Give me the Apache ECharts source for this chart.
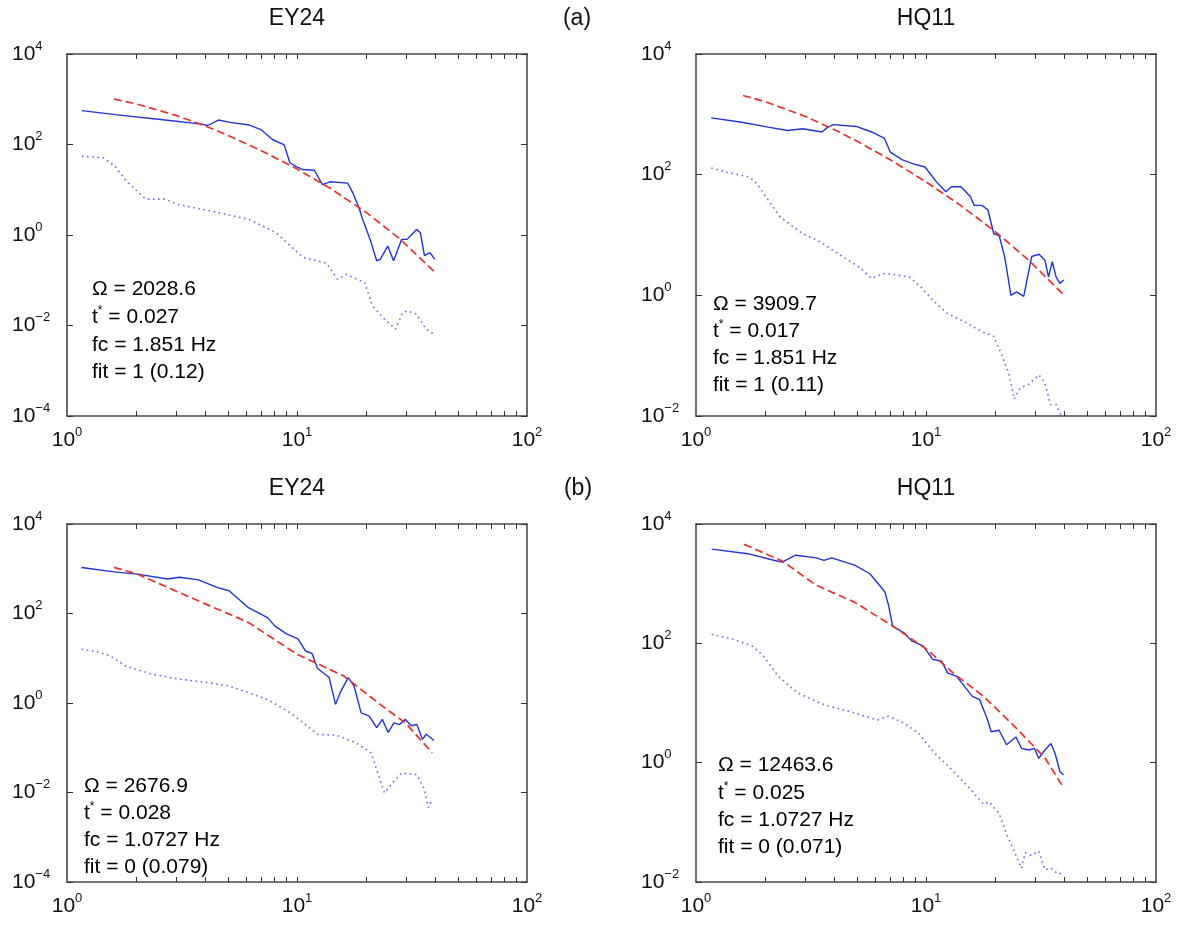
<!DOCTYPE html>
<html><head><meta charset="utf-8">
<script src="https://cdn.jsdelivr.net/npm/echarts@6/dist/echarts.min.js"></script>
<style>html,body{margin:0;padding:0;background:#fff}#c{width:1186px;height:930px}</style>
</head><body><div id="c"></div>
<script>
// ---------- data ----------
const panelTitles = ['EY24', 'HQ11', 'EY24', 'HQ11'];
const groupLabels = ['(a)', '(b)'];
const xLabelTicks = [1, 10, 100];
const xMinorTicks = [2, 3, 4, 5, 6, 7, 8, 9, 10, 20, 30, 40, 50, 60, 70, 80, 90];
const yTicksWide = [1e-4, 1e-2, 1, 1e2, 1e4];
const yTicksNarrow = [1e-2, 1, 1e2, 1e4];

const omegaVals = ['2028.6', '3909.7', '2676.9', '12463.6'];
const tstarVals = ['0.027', '0.017', '0.028', '0.025'];
const fcVals = ['1.851', '1.851', '1.0727', '1.0727'];
const fitVals = ['1 (0.12)', '1 (0.11)', '0 (0.079)', '0 (0.071)'];

// Panel (a) EY24
const a1BlueF = [1.16,1.62,2.67,3.77,4.1,4.55,5.12,6.2,6.97,7.82,8.8,9.3,9.87,10.6,11.9,12.9,13.9,16.6,17.5,18.6,19.3,20.8,22.2,23.0,24.8,26.3,28.5,30.1,33.1,34.4,35.8,37.9,39.7];
const a1BlueV = [562,457,347,286,263,347,309,269,214,129,98,40,33,28,27,13,15,14,8.5,4.0,2.2,0.8,0.27,0.29,0.57,0.27,0.8,0.8,1.33,1.12,0.35,0.41,0.29];
const a1RedF = [1.6,2,3,4,5,7,10,14,20,28,39.5];
const a1RedV = [1010,790,434,255,160,73,28.8,10.6,3.16,0.82,0.156];
const a1DotF = [1.16,1.44,1.62,1.81,2.2,2.67,3.0,4.23,6.2,8.1,10.6,13.4,15.0,16.3,19.7,21.3,24,26.8,28.9,30.1,33.1,36.4,39.3];
const a1DotV = [55,51,33,15.5,6.2,6.2,4.8,3.4,2.2,1.13,0.32,0.24,0.105,0.135,0.089,0.027,0.0138,0.0083,0.0195,0.021,0.0178,0.0083,0.0065];

// Panel (a) HQ11
const a2BlueF = [1.165,1.58,2.06,2.50,2.91,3.53,3.74,3.96,4.97,5.8,6.6,7.0,7.86,8.8,9.9,11.1,12.2,12.9,14.2,15.6,16.2,17.5,18.6,19.7,20.8,22.0,23.4,24.8,26.6,28.8,31.0,32.9,34.1,35.4,36.8,38.2,39.8];
const a2BlueV = [875,740,614,540,578,510,614,676,630,510,398,236,178,151,134,76,52,63,63,43,31,31,26,10.5,9.8,4.3,1.0,1.14,0.96,4.4,4.8,3.8,2.0,3.6,2.0,1.58,1.8];
const a2RedF = [1.6,2,3,4,5,7,10,14,20,28,40];
const a2RedV = [2055,1621,918,557,361,176,75.9,31.8,11.4,3.81,0.99];
const a2DotF = [1.165,1.36,1.71,1.84,2.06,2.32,2.91,3.39,4.6,5.15,5.8,6.5,7.3,8.5,9.5,10.7,12.4,15.0,17.5,19.7,21.2,22.9,24.2,25.6,27.8,31.0,32.9,34.8,36.8,39];
const a2DotV = [129,110,91,71,38,20,10.5,8.1,3.8,2.9,1.9,2.3,2.2,2.0,1.38,0.83,0.50,0.35,0.25,0.21,0.11,0.051,0.019,0.029,0.033,0.048,0.035,0.0155,0.0155,0.0095];

// Panel (b) EY24
const b1BlueF = [1.157,1.60,2.02,2.74,3.08,3.73,4.52,5.07,6.15,7.44,8.0,9.0,10.1,10.9,11.6,12.3,13.8,14.7,15.4,16.7,17.7,19.0,20.6,22.2,23.5,24.9,26.4,27.9,29.6,31.4,33.2,35.1,36.5,39.4];
const b1BlueV = [1070,850,760,590,645,565,380,323,135,81,53,35,27,14.5,12.9,5.9,3.7,0.93,1.7,3.7,2.4,0.6,0.51,0.28,0.43,0.22,0.36,0.33,0.43,0.31,0.33,0.155,0.20,0.145];
const b1RedF = [1.60,2.02,2.85,4.18,6.15,10.0,16.0,23.5,29.6,38.7];
const b1RedV = [1070,760,350,148,63,12.3,4.0,0.85,0.36,0.077];
const b1DotF = [1.157,1.37,1.54,1.80,2.35,3.08,4.02,5.07,7.44,9.37,12.3,14.9,18.0,21.0,22.7,24.0,26.4,28.5,33.2,35.8,37.2,38.7];
const b1DotV = [15.9,13.8,11.3,6.7,4.4,3.4,2.9,2.4,1.2,0.60,0.20,0.19,0.13,0.077,0.023,0.0098,0.0178,0.0274,0.025,0.0117,0.0046,0.0070];

// Panel (b) HQ11
const b2BlueF = [1.17,1.68,2.20,2.37,2.71,3.34,3.60,3.89,4.89,5.69,6.38,6.63,6.88,7.16,8.02,8.66,9.7,10.7,11.7,12.4,13.6,14.7,15.9,17.1,18.5,19.2,20.8,22.4,24.6,26.0,28.0,29.6,30.9,32.9,34.9,36.4,38.2,39.6];
const b2BlueV = [3800,3180,2450,2300,3000,2700,2450,2700,2040,1480,870,720,430,195,150,110,91,54,50,32,28,19,12.9,11.4,5.3,3.3,3.5,2.0,2.7,1.74,1.63,1.74,1.18,1.63,2.1,1.44,0.71,0.62];
const b2RedF = [1.62,2.37,3.34,4.89,7.16,10.1,13.1,17.8,24.2,32.9,39];
const b2RedV = [4560,2400,935,490,195,79,32,12.9,4.1,1.2,0.42];
const b2DotF = [1.17,1.45,1.75,1.96,2.28,2.76,3.60,4.89,6.15,6.88,8.02,9.3,10.9,12.6,15.3,17.8,18.8,20.8,22.4,24.6,26.0,27.0,28.6,30.9,32.9,34.9,37.6,39.6];
const b2DotV = [142,117,91,62,28,14.8,9.4,6.8,5.2,6.0,4.6,3.1,1.44,0.85,0.39,0.20,0.22,0.14,0.064,0.028,0.017,0.031,0.028,0.033,0.016,0.017,0.0135,0.0144];

// ---------- build ----------
const zip = (f, v) => f.map((x, i) => [x, v[i]]);
const panels = [
  {blue: zip(a1BlueF, a1BlueV), red: zip(a1RedF, a1RedV), dot: zip(a1DotF, a1DotV), yMin: 1e-4, yTicks: yTicksWide},
  {blue: zip(a2BlueF, a2BlueV), red: zip(a2RedF, a2RedV), dot: zip(a2DotF, a2DotV), yMin: 1e-2, yTicks: yTicksNarrow},
  {blue: zip(b1BlueF, b1BlueV), red: zip(b1RedF, b1RedV), dot: zip(b1DotF, b1DotV), yMin: 1e-4, yTicks: yTicksWide},
  {blue: zip(b2BlueF, b2BlueV), red: zip(b2RedF, b2RedV), dot: zip(b2DotF, b2DotV), yMin: 1e-2, yTicks: yTicksNarrow}
];

const gridBoxes = [
  {left: 67, top: 54, width: 460, height: 362},
  {left: 696, top: 54, width: 460, height: 362},
  {left: 67, top: 524, width: 460, height: 358},
  {left: 696, top: 524, width: 460, height: 358}
];
const FONT = '"Liberation Sans", Arial, Helvetica, sans-serif';

function pow10Label(v) {
  const e = Math.round(Math.log10(v));
  return '{b|10}{s|' + (e < 0 ? '\u2212' + (-e) : e) + '}';
}
const labelRich = {
  b: {fontSize: 21, fontFamily: FONT, color: '#111'},
  s: {fontSize: 13, fontFamily: FONT, color: '#111', padding: [0, 0, 16, 0]}
};
const lineAx = {show: true, onZero: false, lineStyle: {color: '#4a4a4a', width: 1.6}};
const tickStyle = {color: '#333', width: 1};

const grids = [], xAxes = [], yAxes = [], series = [], graphics = [];
panels.forEach((p, gi) => {
  grids.push(Object.assign({containLabel: false, outerBoundsMode: 'none'}, gridBoxes[gi]));
  const xBase = {type: 'log', logBase: 10, gridIndex: gi, min: 1, max: 100, splitLine: {show: false}, axisLine: lineAx};
  xAxes.push(Object.assign({}, xBase, {
    position: 'bottom',
    axisTick: {show: true, inside: true, length: 5, customValues: xMinorTicks, lineStyle: tickStyle},
    axisLabel: {show: true, customValues: xLabelTicks, formatter: pow10Label, rich: labelRich, margin: 10, fontSize: 21, color: '#111'}
  }));
  xAxes.push(Object.assign({}, xBase, {
    position: 'top',
    axisTick: {show: true, inside: true, length: 5, customValues: xMinorTicks, lineStyle: tickStyle},
    axisLabel: {show: false}
  }));
  const yBase = {type: 'log', logBase: 10, gridIndex: gi, min: p.yMin, max: 1e4, splitLine: {show: false}, axisLine: lineAx};
  yAxes.push(Object.assign({}, yBase, {
    position: 'left',
    axisTick: {show: true, inside: true, length: 6, customValues: p.yTicks, lineStyle: tickStyle},
    axisLabel: {show: true, customValues: p.yTicks, formatter: pow10Label, rich: labelRich, align: 'left', margin: 55, fontSize: 21, color: '#111'}
  }));
  yAxes.push(Object.assign({}, yBase, {
    position: 'right',
    axisTick: {show: true, inside: true, length: 6, customValues: p.yTicks, lineStyle: tickStyle},
    axisLabel: {show: false}
  }));
  const xi = gi * 2, yi = gi * 2;
  series.push({type: 'line', xAxisIndex: xi, yAxisIndex: yi, data: p.dot, showSymbol: false, symbol: 'none', silent: true,
    lineStyle: {color: '#6b6bea', width: 1.6, type: [1.6, 3.6]}});
  series.push({type: 'line', xAxisIndex: xi, yAxisIndex: yi, data: p.blue, showSymbol: false, symbol: 'none', silent: true,
    lineStyle: {color: '#2233d6', width: 1.4}});
  series.push({type: 'line', xAxisIndex: xi, yAxisIndex: yi, data: p.red, showSymbol: false, symbol: 'none', silent: true,
    lineStyle: {color: '#e4332e', width: 1.7, type: [8, 4]}});

  // title
  const gb = gridBoxes[gi];
  graphics.push({type: 'text', x: gb.left + gb.width / 2, y: gi < 2 ? 19 : 489,
    style: {text: panelTitles[gi], font: '23px ' + FONT, fill: '#111', align: 'center', verticalAlign: 'middle'}});
});

// group labels
graphics.push({type: 'text', x: 577, y: 19, style: {text: groupLabels[0], font: '23px ' + FONT, fill: '#111', align: 'center', verticalAlign: 'middle'}});
graphics.push({type: 'text', x: 578, y: 489, style: {text: groupLabels[1], font: '23px ' + FONT, fill: '#111', align: 'center', verticalAlign: 'middle'}});

// annotations
const annoPos = [
  {x: 92, y: [289, 317, 345, 372]},
  {x: 713, y: [304, 331, 358, 385]},
  {x: 84, y: [786, 813, 840, 867]},
  {x: 718, y: [765, 793, 820, 847]}
];
const annoRich = {
  n: {fontSize: 21, fontFamily: FONT, color: '#000'},
  s: {fontSize: 12, fontFamily: FONT, color: '#000', padding: [0, 0, 13, 0]}
};
annoPos.forEach((ap, i) => {
  const lines = [
    '{n|\u03A9 = ' + omegaVals[i] + '}',
    '{n|t}{s|*}{n| = ' + tstarVals[i] + '}',
    '{n|fc = ' + fcVals[i] + ' Hz}',
    '{n|fit = ' + fitVals[i] + '}'
  ];
  lines.forEach((t, k) => {
    graphics.push({type: 'text', x: ap.x, y: ap.y[k], z: 10,
      style: {text: t, rich: annoRich, font: '21px ' + FONT, fill: '#000', align: 'left', verticalAlign: 'middle'}});
  });
});

const chart = echarts.init(document.getElementById('c'), null, {renderer: 'canvas'});
chart.setOption({
  backgroundColor: '#fff',
  animation: false,
  grid: grids,
  xAxis: xAxes,
  yAxis: yAxes,
  series: series,
  graphic: graphics
});
</script>
</body></html>
